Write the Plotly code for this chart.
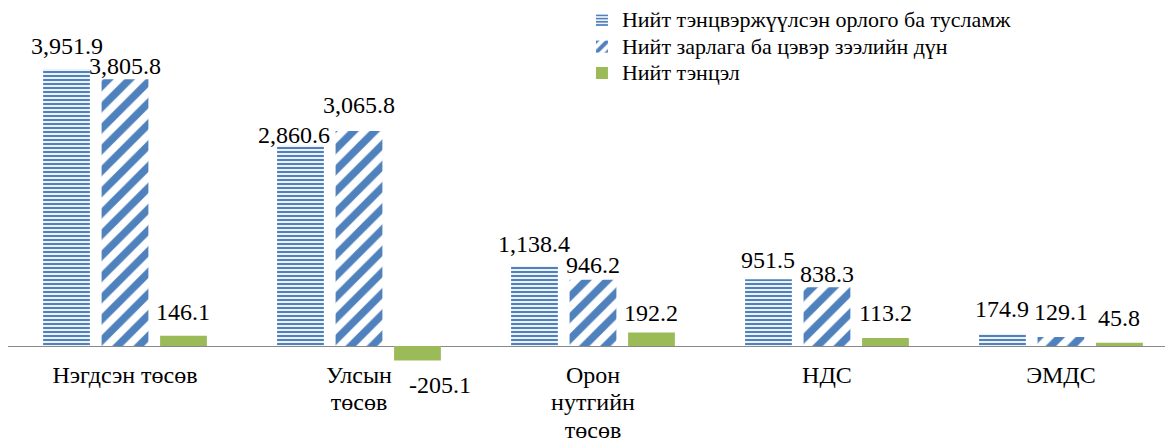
import plotly.graph_objects as go

categories = ["Нэгдсэн төсөв", "Улсын төсөв", "Орон нутгийн төсөв", "НДС", "ЭМДС"]
category_lines = [["Нэгдсэн төсөв"], ["Улсын", "төсөв"], ["Орон", "нутгийн", "төсөв"], ["НДС"], ["ЭМДС"]]
series_names = [
    "Нийт тэнцвэржүүлсэн орлого ба тусламж",
    "Нийт зарлага ба цэвэр зээлийн дүн",
    "Нийт тэнцэл",
]
revenue = [3951.9, 2860.6, 1138.4, 951.5, 174.9]
expenditure = [3805.8, 3065.8, 946.2, 838.3, 129.1]
balance = [146.1, -205.1, 192.2, 113.2, 45.8]

# label placement (pixel nudges, like manually placed Excel labels)
LABEL_DY = [[8, -5, 7, 4, 10], [-2, 11, 0, -2, 10], [9, -10, 5, 10, 10]]
LABEL_DX = [[0, -6, 0, 0, 0], [0, 0, 0, 0, 0], [0, 23, 0, 0, 0]]

BLUE = "#4F81BD"
GREEN = "#9BBB59"
FONT = "Liberation Serif, Times New Roman, serif"
BARGAP = 0.25
BARGROUPGAP = 0.2


def big(s, px):
    return f"<span style='font-size:{px}px'>{s}</span>"


fig = go.Figure()
fig.add_trace(go.Bar(
    x=categories, y=revenue, name=big(series_names[0], 22),
    marker=dict(color=BLUE, line=dict(width=0),
                pattern=dict(shape="-", fgcolor=BLUE, bgcolor="white", fgopacity=1,
                             size=4, solidity=0.55)),
))
fig.add_trace(go.Bar(
    x=categories, y=expenditure, name=big(series_names[1], 22),
    marker=dict(color=BLUE, line=dict(width=0),
                pattern=dict(shape="/", fgcolor=BLUE, bgcolor="white", fgopacity=1,
                             size=15, solidity=0.5)),
))
fig.add_trace(go.Bar(
    x=categories, y=balance, name=big(series_names[2], 22),
    marker=dict(color=GREEN, line=dict(width=0)),
))

# value labels
slot = (1 - BARGAP) / 3
for k, vals in enumerate([revenue, expenditure, balance]):
    for i, v in enumerate(vals):
        xpos = i + (k - 1) * slot
        fig.add_annotation(x=xpos, y=v, xref="x", yref="y", text=f"{v:,.1f}",
                           showarrow=False, yanchor="bottom" if v >= 0 else "top",
                           xshift=LABEL_DX[k][i], yshift=LABEL_DY[k][i],
                           font=dict(family=FONT, size=24, color="black"))

fig.update_layout(
    width=1173, height=440,
    margin=dict(l=0, r=0, t=2, b=87, autoexpand=False),
    paper_bgcolor="white", plot_bgcolor="white",
    barmode="group", bargap=BARGAP, bargroupgap=BARGROUPGAP,
    font=dict(family=FONT, size=21, color="black"),
    showlegend=True,
    legend=dict(
        x=0.4893, y=1.0228,
        xanchor="left", yanchor="top",
        font=dict(family=FONT, size=18, color="black"),
        bgcolor="rgba(0,0,0,0)", itemwidth=30, tracegroupgap=0,
    ),
    xaxis=dict(range=[-0.5, 4.513], showgrid=False, showline=False, ticks="",
               tickangle=0, automargin=False,
               tickmode="array", tickvals=categories,
               ticktext=["<br>".join(big(s, 24) for s in lines) for lines in category_lines],
               tickfont=dict(family=FONT, size=21, color="black")),
    yaxis=dict(range=[-214, 4793], showgrid=False, showticklabels=False,
               zeroline=True, zerolinecolor="#898989", zerolinewidth=1, showline=False,
               automargin=False),
)

fig.write_html("out.html")
